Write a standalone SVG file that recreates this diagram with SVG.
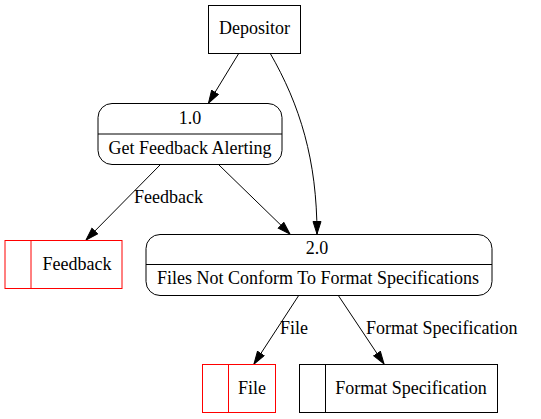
<svg xmlns="http://www.w3.org/2000/svg" width="541" height="419" viewBox="0 0 541 419">
<style>
.n{fill:#fff;stroke:#000;stroke-width:1}
.r{fill:#fff;stroke:#ff0000;stroke-width:1}
.rl{stroke:#ff0000;stroke-width:1}
.bl{stroke:#000;stroke-width:1}
.e{fill:none;stroke:#000;stroke-width:1;marker-end:url(#a)}
</style>
<defs>
<marker id="a" markerUnits="userSpaceOnUse" markerWidth="14" markerHeight="10" refX="13" refY="4.5" orient="auto" viewBox="0 0 14 10">
<path d="M0.5,0.5 L13,4.5 L0.5,8.5 Z" fill="#000" stroke="#000" stroke-width="1"/>
</marker>
</defs>
<rect width="541" height="419" fill="#fff"/>
<g font-family="'Liberation Serif', 'Times New Roman', 'DejaVu Serif', serif" font-size="18" fill="#000">
<g id="edges">
<path class="e" d="M239,53 L208.5,103"/>
<path class="e" d="M270,53 C300,105 317,160 317,234"/>
<path class="e" d="M160,165 L86,240"/>
<text x="134" y="203">Feedback</text>
<path class="e" d="M219,165 L290,234"/>
<path class="e" d="M299,295 L254,364"/>
<text x="280" y="334">File</text>
<path class="e" d="M338,295 L384,364"/>
<text x="366" y="334">Format Specification</text>
</g>
<g id="depositor">
<rect class="n" x="208.5" y="5.5" width="92" height="48"/>
<text x="254.5" y="34" text-anchor="middle">Depositor</text>
</g>
<g id="p1">
<rect class="n" x="98" y="103.5" width="184" height="61" rx="14"/>
<line class="bl" x1="98" y1="134" x2="282" y2="134"/>
<text x="190" y="124" text-anchor="middle">1.0</text>
<text x="190" y="154" text-anchor="middle">Get Feedback Alerting</text>
</g>
<g id="feedback">
<rect class="r" x="5" y="240.5" width="117" height="48"/>
<line class="rl" x1="31" y1="240.5" x2="31" y2="288.5"/>
<text x="77" y="270" text-anchor="middle">Feedback</text>
</g>
<g id="p2">
<rect class="n" x="146" y="234.5" width="346" height="61" rx="14"/>
<line class="bl" x1="146" y1="264.5" x2="492" y2="264.5"/>
<text x="317" y="254" text-anchor="middle">2.0</text>
<text x="318" y="284" text-anchor="middle">Files Not Conform To Format Specifications</text>
</g>
<g id="file">
<rect class="r" x="202.5" y="364.5" width="73" height="48"/>
<line class="rl" x1="228.5" y1="364.5" x2="228.5" y2="412.5"/>
<text x="252" y="394" text-anchor="middle">File</text>
</g>
<g id="formatspec">
<rect class="n" x="299.5" y="364.5" width="198" height="48"/>
<line class="bl" x1="325.5" y1="364.5" x2="325.5" y2="412.5"/>
<text x="411" y="394" text-anchor="middle">Format Specification</text>
</g>
</g>
</svg>
